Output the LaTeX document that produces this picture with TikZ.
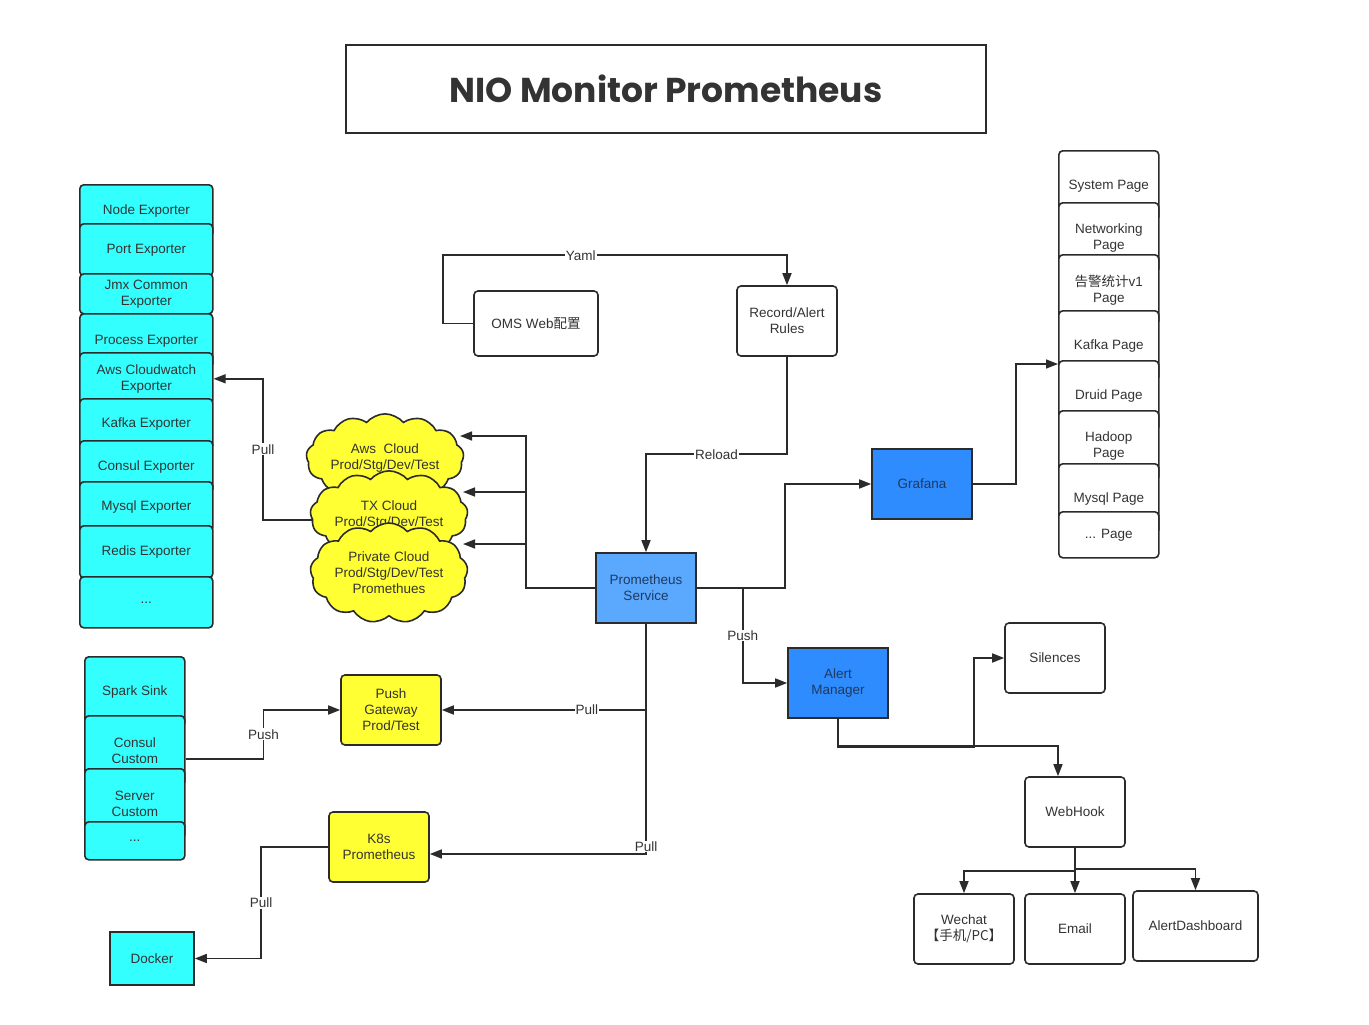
\documentclass[tikz,border=0pt]{standalone}
\usepackage{fontspec}
\setmainfont{Liberation Sans}
\newfontfamily\cjk{Noto Sans CJK SC}
\newfontfamily\titlefont{Poppins}
\usetikzlibrary{shapes.symbols,arrows.meta,calc}
\pgfdeclarelayer{background}
\pgfsetlayers{background,main}
\definecolor{bd}{HTML}{2B2B2B}
\definecolor{tx}{HTML}{333333}
\definecolor{txb}{HTML}{1F3A60}
\definecolor{cyanF}{HTML}{33FFFF}
\definecolor{promF}{HTML}{5BA8FF}
\definecolor{blueF}{HTML}{2E8CFF}
\definecolor{yelF}{HTML}{FFFF33}
\newcommand\lab{\fontsize{13.5}{16}\selectfont}
\tikzset{
  box/.style={draw=bd, line width=1.6pt, rounded corners=4pt, align=center, font=\lab, text=tx, inner sep=2pt},
  sq/.style={box, rounded corners=0pt},
  bluebox/.style={sq, text=txb, minimum width=100pt, minimum height=70pt},
  stk/.style={box, anchor=north west},
  cloudn/.style={cloud, cloud puffs=13, cloud puff arc=100, aspect=2.1, draw=bd, line width=1.6pt, fill=yelF, align=center, font=\lab, text=tx, inner sep=0pt},
  arr/.style={draw=bd, line width=1.6pt, -{Triangle[length=12pt,width=9pt]}},
  lbl/.style={fill=white, inner sep=1pt, font=\lab, text=tx},
}
\begin{document}
\begin{tikzpicture}[x=1pt,y=-1pt]
\begin{pgfonlayer}{background}
\fill[white] (0,0) rectangle (1369,1025);
\end{pgfonlayer}
\useasboundingbox (0,0) rectangle (1369,1025);

% title
\node[draw=bd, line width=1.8pt, minimum width=640pt, minimum height=88pt, text=tx] (title) at (666,89) {\titlefont\bfseries\fontsize{34.5}{40}\selectfont NIO Monitor Prometheus};

% exporters stack
\begin{scope}[every node/.style={stk, fill=cyanF, minimum width=133pt}]
\node[minimum height=52pt] (ne) at (79,184) {Node Exporter};
\node[minimum height=52pt] (pe) at (79,223) {Port Exporter};
\node[minimum height=40pt] (jmx) at (79,273) {Jmx Common\\Exporter};
\node[minimum height=54pt] (proc) at (79,313) {Process Exporter};
\node[minimum height=52pt] (aws) at (79,352) {Aws Cloudwatch\\Exporter};
\node[minimum height=50pt] (kafka) at (79,398) {Kafka Exporter};
\node[minimum height=52pt] (consul) at (79,440) {Consul Exporter};
\node[minimum height=50pt] (mysql) at (79,481) {Mysql Exporter};
\node[minimum height=52pt] (redis) at (79,525) {Redis Exporter};
\node[minimum height=51pt] (more) at (79,576) {...};
\end{scope}

% pages stack
\begin{scope}[every node/.style={stk, fill=white, minimum width=100pt, minimum height=70pt}]
\node (sys) at (1058,150) {System Page};
\node (net) at (1058,202) {Networking\\Page};
\node (alarm) at (1058,254) {{\cjk 告警统计}v1\\Page};
\node (kafkap) at (1058,310) {Kafka Page};
\node (druid) at (1058,360) {Druid Page};
\node (hadoop) at (1058,410) {Hadoop\\Page};
\node (mysqlp) at (1058,463) {Mysql Page};
\node[minimum height=46pt] (dotp) at (1058,511) {... Page};
\end{scope}

% spark stack
\begin{scope}[every node/.style={stk, fill=cyanF, minimum width=100pt, minimum height=70pt}]
\node (spark) at (84,656) {Spark Sink};
\node (consulc) at (84,715) {Consul\\Custom};
\node (serverc) at (84,768) {Server\\Custom};
\node[minimum height=38pt] (dots2) at (84,821) {...};
\end{scope}

% other nodes
\node[box, fill=white, minimum width=124pt, minimum height=65pt] (oms) at (536,323.5) {OMS Web{\cjk 配置}};
\node[box, fill=white, minimum width=100pt, minimum height=70pt] (rules) at (787,321) {Record/Alert\\Rules};
\node[bluebox, fill=promF] (prom) at (646,588) {Prometheus\\Service};
\node[bluebox, fill=blueF] (grafana) at (922,484) {Grafana};
\node[bluebox, fill=blueF] (alert) at (838,683) {Alert\\Manager};
\node[box, fill=white, minimum width=100pt, minimum height=70pt] (silences) at (1055,658) {Silences};
\node[box, fill=white, minimum width=100pt, minimum height=70pt] (webhook) at (1075,812) {WebHook};
\node[box, fill=white, minimum width=100pt, minimum height=70pt] (wechat) at (964,929) {Wechat\\{\cjk 【手机/PC】}};
\node[box, fill=white, minimum width=100pt, minimum height=70pt] (email) at (1075,929) {Email};
\node[box, fill=white, minimum width=125pt, minimum height=70pt] (dash) at (1195.5,926) {AlertDashboard};
\node[box, fill=yelF, minimum width=100pt, minimum height=70pt] (pg) at (391,710) {Push\\Gateway\\Prod/Test};
\node[box, fill=yelF, minimum width=100pt, minimum height=70pt] (k8s) at (379,847) {K8s\\Prometheus};
\node[sq, fill=cyanF, minimum width=84pt, minimum height=53pt] (docker) at (152,958.5) {Docker};

% clouds
\node[cloudn, minimum width=150pt, minimum height=84pt] (c1) at (385,458) {Aws\ \ Cloud\\Prod/Stg/Dev/Test};
\node[cloudn, minimum width=150pt, minimum height=80pt] (c2) at (389,515) {TX Cloud\\Prod/Stg/Dev/Test};
\node[cloudn, minimum width=150pt, minimum height=100pt] (c3) at (389,573) {Private Cloud\\Prod/Stg/Dev/Test\\Promethues};

% coordinates for free ends
\coordinate (c1in) at (460,436);
\coordinate (c2in) at (463,492);
\coordinate (c3in) at (463,544);
\coordinate (pgin) at (1058,364);
\coordinate (whin) at ($(webhook.north)+(-17,0)$);
\coordinate (k8sin) at ($(k8s.east)+(0,7)$);
\coordinate (ccout) at ($(consulc.east)+(0,8)$);

% connectors
\begin{pgfonlayer}{background}
\draw[arr] ($(c2.center)+(0,5)$) -- ++(-126,0) |- node[lbl,pos=0.25]{Pull} (aws.east);
\end{pgfonlayer}
\draw[arr] (oms.west) -- ++(-30,0) |- node[lbl,pos=0.70]{Yaml} ($(rules.north)+(0,-30)$) -- (rules.north);
\draw[arr] (rules.south) |- node[lbl,pos=0.75]{Reload} ($(prom.north)+(0,-98)$) -- (prom.north);
\draw[arr] (prom.west) -- ++(-69,0) |- (c1in);
\draw[arr] (prom.west) -- ++(-69,0) |- (c2in);
\draw[arr] (prom.west) -- ++(-69,0) |- (c3in);
\draw[arr] (prom.east) -- ++(88,0) |- (grafana.west);
\draw[arr] (prom.east) -- ++(46,0) |- node[lbl,pos=0.25]{Push} (alert.west);
\draw[arr] (grafana.east) -- ++(43,0) |- (pgin);
\draw[arr] (alert.south) |- ($(silences.west)+(-30,89)$) |- (silences.west);
\draw[arr] (alert.south) |- ($(whin)+(0,-30)$) -- (whin);
\draw[arr] (webhook.south) -- ++(0,23) -| (wechat.north);
\draw[arr] (webhook.south) -- (email.north);
\draw[arr] (webhook.south) -- ++(0,21) -| (dash.north);
\draw[arr] (prom.south) |- node[lbl,pos=0.645]{Pull} (pg.east);
\draw[arr] (prom.south) |- node[lbl,inner sep=0.5pt,anchor=south,pos=0.497]{Pull} (k8sin);
\draw[arr] (ccout) -- ++(78,0) |- node[lbl,pos=0.25]{Push} (pg.west);
\draw[arr] (k8s.west) -- ++(-67,0) |- node[lbl,pos=0.25]{Pull} (docker.east);
\end{tikzpicture}
\end{document}
